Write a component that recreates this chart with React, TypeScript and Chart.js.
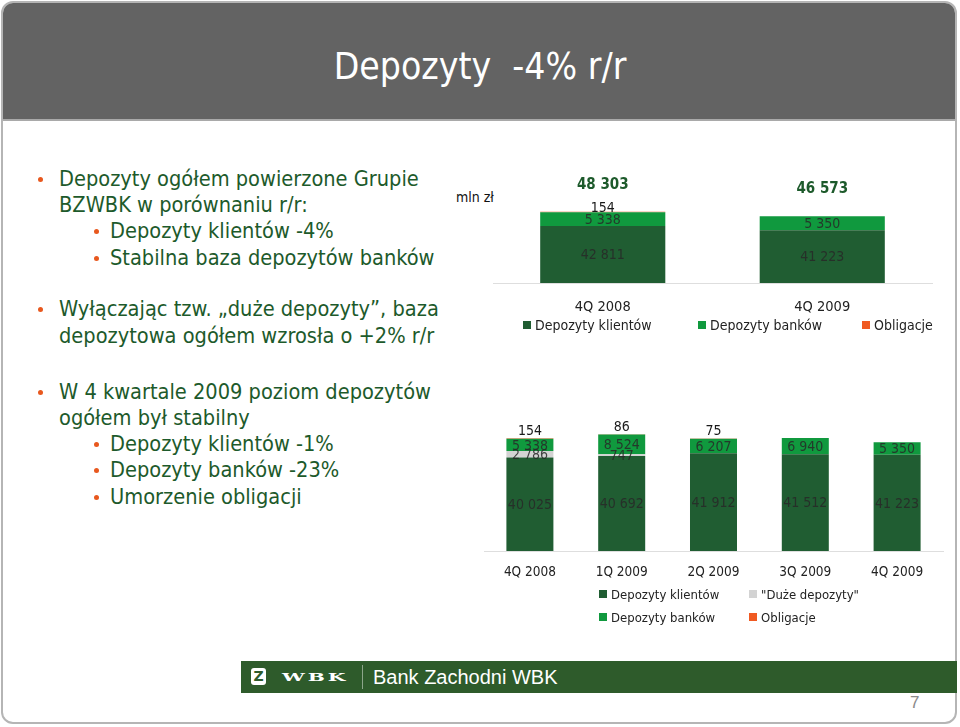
import React, { useEffect, useRef } from "react";
import { Chart, registerables } from "chart.js";

Chart.register(...registerables);

// ---- data ----
const topCategories = ["4Q 2008", "4Q 2009"];
const topKlienci = [42811, 41223];
const topBanki = [5338, 5350];
const topObligacje = [154, 0];

const botCategories = ["4Q 2008", "1Q 2009", "2Q 2009", "3Q 2009", "4Q 2009"];
const botKlienci = [40025, 40692, 41912, 41512, 41223];
const botDuze = [2786, 747, 0, 0, 0];
const botBanki = [5338, 8524, 6207, 6940, 5350];
const botObligacje = [154, 86, 75, 0, 0];

const C_DARK = "#205d32";
const C_GREEN = "#10993e";
const C_GRAY = "#d3d3d3";
const C_ORANGE = "#f05a22";
const TEXT_GREEN = "#1d5a2b";
const FONT = "'DejaVu Sans Condensed', 'DejaVu Sans', sans-serif";

const fmt = (v: number) => {
  const s = String(Math.round(v));
  return s.replace(/\B(?=(\d{3})+(?!\d))/g, " ");
};

function makeLabelPlugin(showTotals: boolean, labelSize: number, topOffset: number) {
  return {
    id: "segLabels",
    afterDatasetsDraw(chart: any) {
      const ctx = chart.ctx;
      const area = chart.chartArea;
      const n = chart.data.datasets.length;
      ctx.save();
      ctx.textAlign = "center";
      ctx.textBaseline = "middle";
      ctx.font = `${labelSize}px ${FONT}`;
      chart.data.datasets.forEach((ds: any, i: number) => {
        const meta = chart.getDatasetMeta(i);
        meta.data.forEach((bar: any, j: number) => {
          const v = ds.data[j];
          if (!v) return;
          const p = bar.getProps(["x", "y", "base"], true);
          if (i === n - 1) {
            ctx.fillStyle = "#1a1a1a";
            ctx.fillText(fmt(v), p.x, p.y - topOffset);
          } else {
            const bottom = Math.min(p.base, area.bottom);
            ctx.fillStyle = "rgba(40,40,40,0.85)";
            ctx.fillText(fmt(v), p.x, (p.y + bottom) / 2 + 1);
          }
        });
      });
      if (showTotals) {
        const labels = chart.data.labels as string[];
        ctx.font = `bold 15px ${FONT}`;
        ctx.fillStyle = TEXT_GREEN;
        labels.forEach((_: string, j: number) => {
          let total = 0;
          chart.data.datasets.forEach((ds: any) => (total += ds.data[j] || 0));
          const meta = chart.getDatasetMeta(n - 1);
          const bar = meta.data[j] as any;
          const yTop = chart.scales.y.getPixelForValue(total);
          ctx.fillText(fmt(total), bar.x, yTop - 27);
        });
      }
      ctx.restore();
    },
  };
}

function TopChart() {
  const ref = useRef<HTMLCanvasElement>(null);
  useEffect(() => {
    const chart = new Chart(ref.current!, {
      type: "bar",
      data: {
        labels: topCategories,
        datasets: [
          { label: "Depozyty klientów", data: topKlienci, backgroundColor: C_DARK },
          { label: "Depozyty banków", data: topBanki, backgroundColor: C_GREEN },
          { label: "Obligacje", data: topObligacje, backgroundColor: C_ORANGE },
        ],
      },
      options: {
        animation: false,
        responsive: false,
        maintainAspectRatio: false,
        layout: { padding: { left: 13, right: 18, top: 0, bottom: 0 } },
        plugins: { legend: { display: false }, tooltip: { enabled: false } },
        datasets: { bar: { categoryPercentage: 1, barPercentage: 0.57 } },
        scales: {
          x: {
            stacked: true,
            grid: { display: false, drawTicks: false },
            border: { display: true, color: "#dedede", width: 1 },
            ticks: { color: "#222", font: { family: FONT, size: 14.5 }, padding: 16 },
            afterFit: (s: any) => {
              s.height = 57;
            },
          },
          y: { stacked: true, display: false, min: 21000, max: 64300 },
        },
      },
      plugins: [makeLabelPlugin(true, 14, 3)],
    } as any);
    return () => chart.destroy();
  }, []);
  return (
    <canvas
      ref={ref}
      width={470}
      height={170}
      style={{ position: "absolute", left: 480, top: 170, width: 470, height: 170 }}
    />
  );
}

function BottomChart() {
  const ref = useRef<HTMLCanvasElement>(null);
  useEffect(() => {
    const chart = new Chart(ref.current!, {
      type: "bar",
      data: {
        labels: botCategories,
        datasets: [
          { label: "Depozyty klientów", data: botKlienci, backgroundColor: C_DARK },
          { label: '"Duże depozyty"', data: botDuze, backgroundColor: C_GRAY },
          { label: "Depozyty banków", data: botBanki, backgroundColor: C_GREEN },
          { label: "Obligacje", data: botObligacje, backgroundColor: C_ORANGE },
        ],
      },
      options: {
        animation: false,
        responsive: false,
        maintainAspectRatio: false,
        layout: { padding: { left: 14, right: 7, top: 11, bottom: 0 } },
        plugins: { legend: { display: false }, tooltip: { enabled: false } },
        datasets: { bar: { categoryPercentage: 1, barPercentage: 0.512 } },
        scales: {
          x: {
            stacked: true,
            grid: { display: false, drawTicks: false },
            border: { display: true, color: "#dedede", width: 1 },
            ticks: { color: "#222", font: { family: FONT, size: 13.5 }, padding: 13 },
            afterFit: (s: any) => {
              s.height = 39;
            },
          },
          y: { stacked: true, display: false, min: 0, max: 60000 },
        },
      },
      plugins: [makeLabelPlugin(false, 14, 7)],
    } as any);
    return () => chart.destroy();
  }, []);
  return (
    <canvas
      ref={ref}
      width={480}
      height={190}
      style={{ position: "absolute", left: 470, top: 400, width: 480, height: 190 }}
    />
  );
}

function LegendItem({ x, y, color, text, size }: { x: number; y: number; color: string; text: string; size: number }) {
  return (
    <div
      style={{
        position: "absolute",
        left: x,
        top: y - 10,
        height: 20,
        display: "flex",
        alignItems: "center",
        whiteSpace: "nowrap",
        fontFamily: FONT,
        fontSize: size,
        color: "#222",
      }}
    >
      <span style={{ display: "inline-block", width: 8, height: 8, background: color, marginRight: 4 }} />
      {text}
    </div>
  );
}

type Line = { text: string; y: number; level: number; bullet: boolean };
const leftLines: Line[] = [
  { text: "Depozyty ogółem powierzone Grupie", y: 179, level: 0, bullet: true },
  { text: "BZWBK w porównaniu r/r:", y: 205, level: 0, bullet: false },
  { text: "Depozyty klientów -4%", y: 231, level: 1, bullet: true },
  { text: "Stabilna baza depozytów banków", y: 258, level: 1, bullet: true },
  { text: "Wyłączając tzw. „duże depozyty”, baza", y: 309, level: 0, bullet: true },
  { text: "depozytowa ogółem wzrosła o +2% r/r", y: 336, level: 0, bullet: false },
  { text: "W 4 kwartale 2009 poziom depozytów", y: 392, level: 0, bullet: true },
  { text: "ogółem był stabilny", y: 418, level: 0, bullet: false },
  { text: "Depozyty klientów -1%", y: 444, level: 1, bullet: true },
  { text: "Depozyty banków -23%", y: 470, level: 1, bullet: true },
  { text: "Umorzenie obligacji", y: 497, level: 1, bullet: true },
];

export default function App() {
  return (
    <div
      style={{
        position: "absolute",
        left: 0,
        top: 0,
        width: 960,
        height: 727,
        background: "#fff",
        overflow: "hidden",
        fontFamily: FONT,
      }}
    >
      {/* slide frame */}
      <div
        style={{
          position: "absolute",
          left: 1,
          top: 1,
          width: 952,
          height: 719,
          border: "2px solid #b5b5b5",
          borderRadius: 12,
          overflow: "hidden",
        }}
      >
        <div
          style={{
            position: "absolute",
            left: 0,
            top: 0,
            right: 0,
            height: 116,
            background: "#636363",
            borderBottom: "2px solid #a9a9a9",
          }}
        />
      </div>
      <div
        style={{
          position: "absolute",
          left: 0,
          width: 960,
          top: 44,
          height: 46,
          lineHeight: "46px",
          textAlign: "center",
          color: "#fff",
          fontSize: 37,
          whiteSpace: "pre",
          fontFamily: FONT,
        }}
      >
        {"Depozyty  -4% r/r"}
      </div>

      {/* left bullets */}
      {leftLines.map((l, i) => (
        <div key={i}>
          {l.bullet && (
            <span
              style={{
                position: "absolute",
                left: l.level === 0 ? 38 : 94,
                top: l.y - 2,
                width: 5,
                height: 5,
                borderRadius: 3,
                background: "#e8581e",
              }}
            />
          )}
          <div
            style={{
              position: "absolute",
              left: l.level === 0 ? 59 : 110,
              top: l.y - 13,
              height: 26,
              lineHeight: "26px",
              fontSize: 21.6,
              color: TEXT_GREEN,
              whiteSpace: "nowrap",
            }}
          >
            {l.text}
          </div>
        </div>
      ))}

      {/* top chart */}
      <div style={{ position: "absolute", left: 456, top: 189, fontSize: 14, color: "#111", fontFamily: FONT }}>
        mln zł
      </div>
      <TopChart />
      <LegendItem x={523} y={325} color={C_DARK} text="Depozyty klientów" size={14} />
      <LegendItem x={698} y={325} color={C_GREEN} text="Depozyty banków" size={14} />
      <LegendItem x={862} y={325} color={C_ORANGE} text="Obligacje" size={14} />

      {/* bottom chart */}
      <BottomChart />
      <LegendItem x={599} y={594} color={C_DARK} text="Depozyty klientów" size={13} />
      <LegendItem x={749} y={594} color={C_GRAY} text={'"Duże depozyty"'} size={13} />
      <LegendItem x={599} y={617} color={C_GREEN} text="Depozyty banków" size={13} />
      <LegendItem x={749} y={617} color={C_ORANGE} text="Obligacje" size={13} />

      {/* footer */}
      <div style={{ position: "absolute", left: 241, top: 661, width: 716, height: 32, background: "#2e5b2b" }} />
      <div
        style={{
          position: "absolute",
          left: 251,
          top: 668,
          width: 15,
          height: 17,
          background: "#fff",
          borderRadius: 3,
          color: "#2e5b2b",
          fontWeight: "bold",
          fontSize: 14,
          lineHeight: "17px",
          textAlign: "center",
          fontFamily: "'DejaVu Sans', sans-serif",
        }}
      >
        Z
      </div>
      <div
        style={{
          position: "absolute",
          left: 282,
          top: 667,
          height: 20,
          lineHeight: "20px",
          color: "#fff",
          fontWeight: "bold",
          fontSize: 14,
          letterSpacing: 2,
          fontFamily: "'DejaVu Serif', serif",
          transform: "scale(1.45, 0.85)",
          transformOrigin: "left center",
        }}
      >
        WBK
      </div>
      <div style={{ position: "absolute", left: 362, top: 665, width: 1, height: 24, background: "rgba(255,255,255,0.45)" }} />
      <div
        style={{
          position: "absolute",
          left: 373,
          top: 665,
          height: 24,
          lineHeight: "24px",
          color: "#fff",
          fontSize: 20,
          fontFamily: "'Liberation Sans', Arial, sans-serif",
          whiteSpace: "nowrap",
        }}
      >
        Bank Zachodni WBK
      </div>
      <div
        style={{
          position: "absolute",
          left: 910,
          top: 693,
          height: 20,
          lineHeight: "20px",
          color: "#8a8a8a",
          fontSize: 17,
          fontFamily: "'Liberation Sans', Arial, sans-serif",
        }}
      >
        7
      </div>
    </div>
  );
}
